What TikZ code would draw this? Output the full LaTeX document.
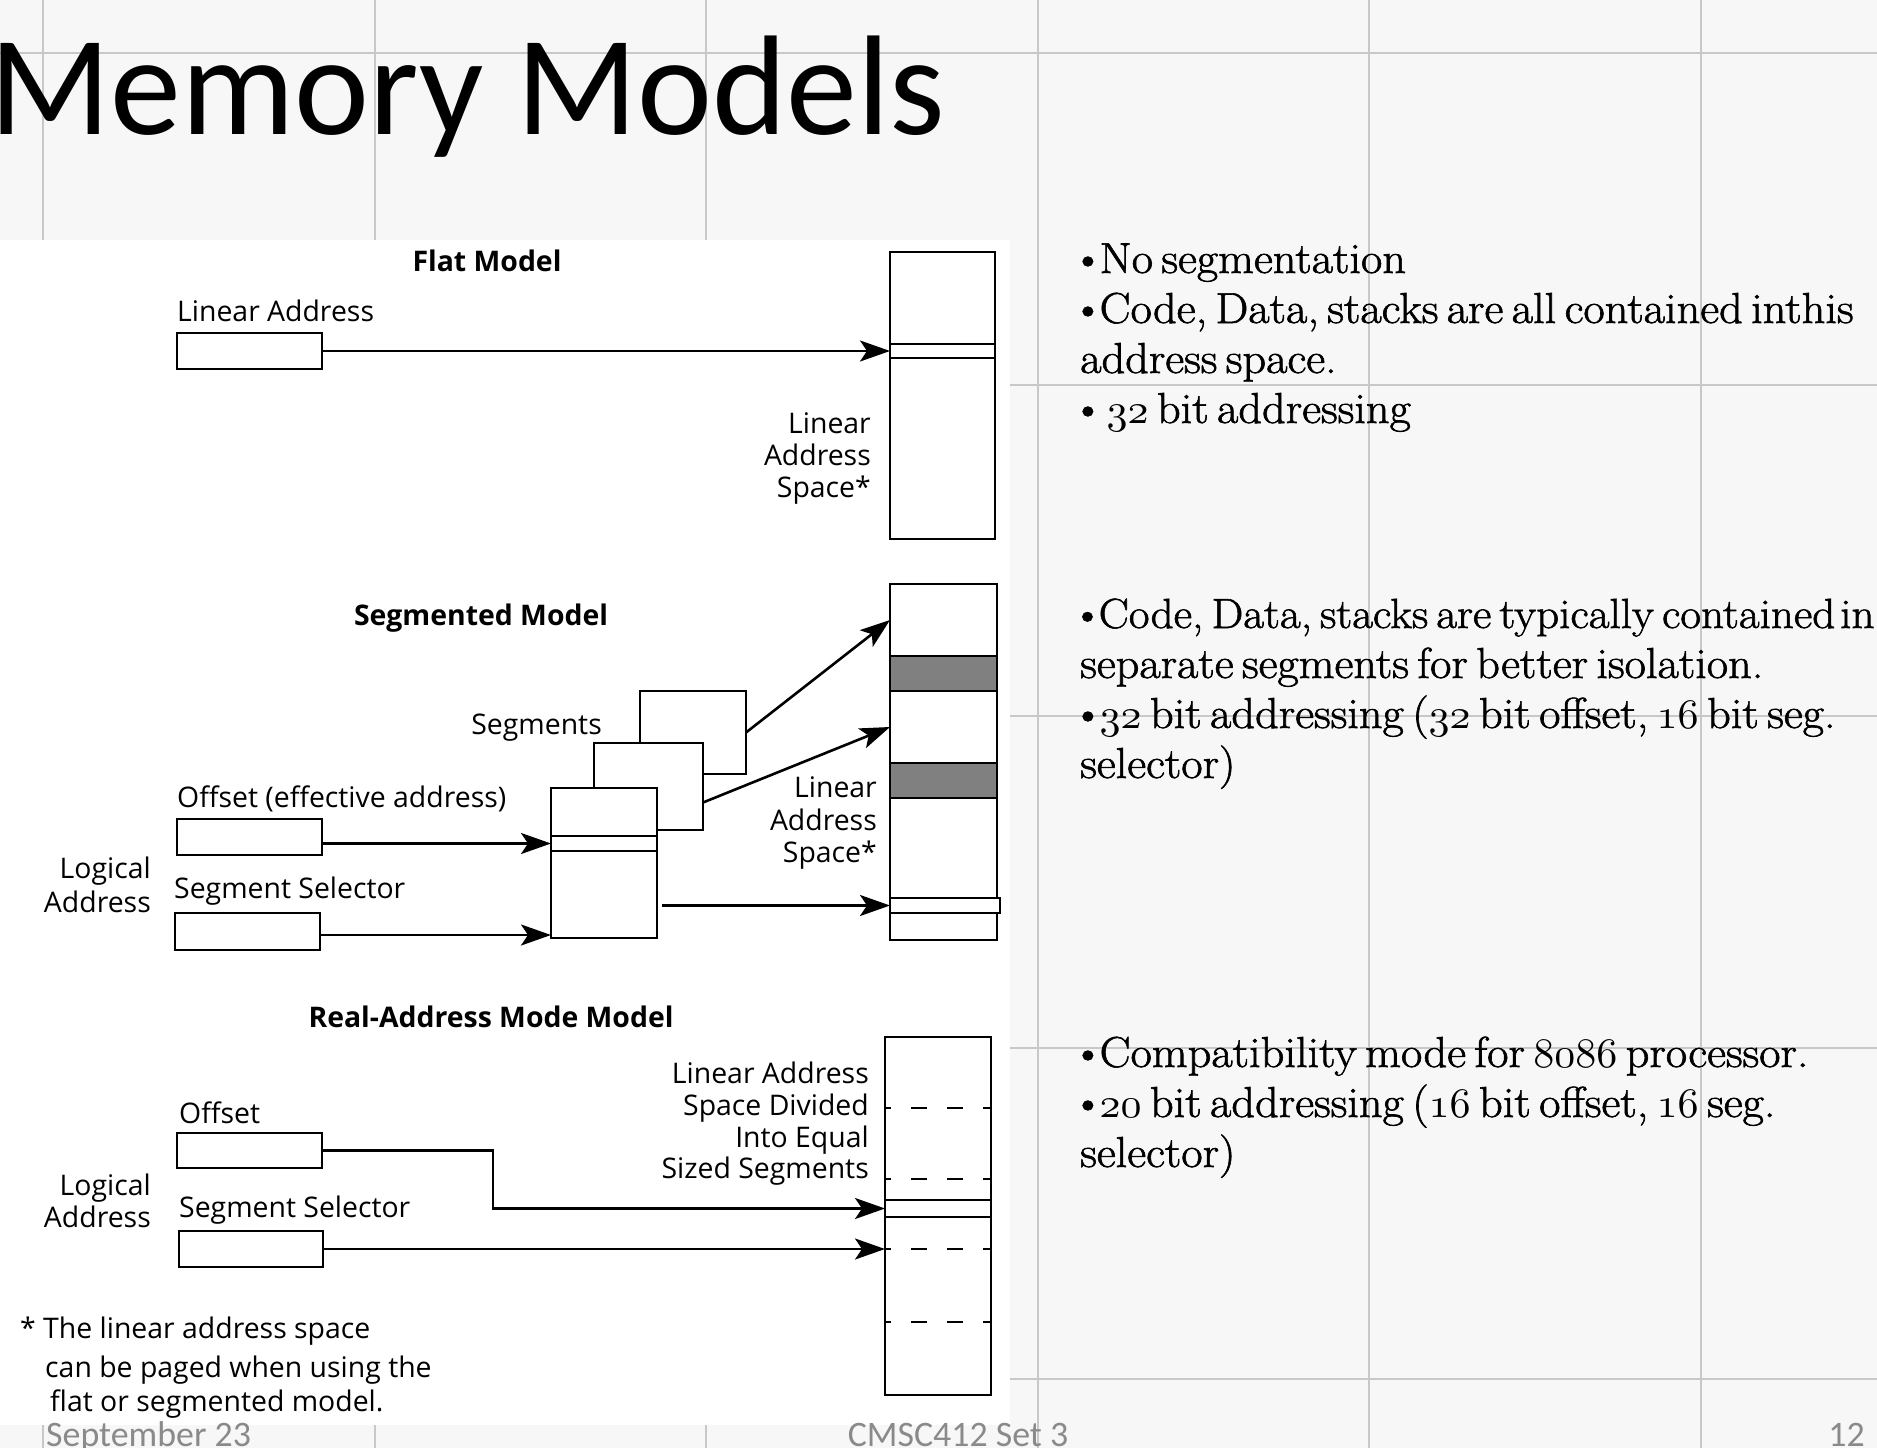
\documentclass[tikz,border=0pt]{standalone}
\usepackage{fontspec}
\newfontfamily\titlefont{Carlito}
\newfontfamily\diagfont{Open Sans}
\newfontfamily\bodyfont{Latin Modern Roman}[FakeBold=1.4, FakeStretch=1.07, WordSpace=0.6]
\usetikzlibrary{arrows.meta}
\definecolor{gridgray}{HTML}{C8C8C8}
\definecolor{bgtex}{HTML}{F7F7F7}
\definecolor{footgray}{HTML}{8A8A8A}
\definecolor{bandgray}{HTML}{808080}
\font\osfnum=cmmi10 at 42bp
\newcommand\myosf[1]{{\osfnum #1}}
\newcommand\bul{\textbullet\kern-5bp}
\begin{document}
\begin{tikzpicture}[x=1bp,y=-1bp,
  box/.style={draw=black, line width=2.6bp, fill=white, inner sep=0pt, outer sep=0pt, anchor=north west},
  graybox/.style={box, fill=bandgray},
  arr/.style={line width=2.6bp, -{Stealth[length=30bp,width=21bp,inset=7bp]}},
  dashline/.style={line width=2.4bp, dash pattern=on 16bp off 20bp, dash phase=10bp},
  lbl/.style={font=\diagfont\fontsize{28.5}{33}\selectfont, inner sep=0pt},
  lblL/.style={lbl, anchor=base west},
  lblR/.style={lbl, anchor=base east},
  head/.style={font=\diagfont\bfseries\fontsize{28.5}{33}\selectfont, inner sep=0pt, anchor=base},
  body/.style={font=\bodyfont\fontsize{43.5}{50}\selectfont, inner sep=0pt, anchor=base west},
  foot/.style={font=\titlefont\fontsize{36}{40}\selectfont, text=footgray, inner sep=0pt},
  gridline/.style={draw=gridgray, line width=2bp},
]
\useasboundingbox (0,0) rectangle (1877,1448);
% slide background
\fill[bgtex] (0,0) rectangle (1877,1448);
\foreach \gx in {43,374.5,706,1037.5,1369,1700.5} \draw[gridline] (\gx,0) -- (\gx,1448);
\foreach \gy in {53,385,716,1048,1379} \draw[gridline] (0,\gy) -- (1877,\gy);
\fill[white] (0,240) rectangle (1010,1425);

% title
\node[font=\titlefont\fontsize{142.5}{150}\selectfont, anchor=base west, inner sep=0pt] (title) at (-11,135) {Memory Models};

% ---------------- Flat model
\node[head] (flathead) at (487,272) {Flat Model};
\node[lblL] (flatlalbl) at (177,321) {Linear Address};
\node[box, minimum width=145bp, minimum height=36bp] (flatla) at (177,333) {};
\node[box, minimum width=105bp, minimum height=287bp] (flatspace) at (890,252) {};
\node[box, minimum width=105bp, minimum height=14bp] (flatband) at (890,344) {};
\draw[arr] (flatla.east) -- (flatla.east -| flatspace.west);
\node[lblR] (flats1) at (871,433) {Linear};
\node[lblR] (flats2) at (871,465) {Address};
\node[lblR] (flats3) at (871,497) {Space*};

% ---------------- Segmented model
\node[head] (seghead) at (481,625) {Segmented Model};
\node[box, minimum width=107bp, minimum height=356bp] (segspace) at (890,584) {};
\node[graybox, minimum width=107bp, minimum height=35bp] (gray1) at (890,656) {};
\node[graybox, minimum width=107bp, minimum height=35bp] (gray2) at (890,763) {};
\node[box, minimum width=110bp, minimum height=15bp] (segband) at (890,898) {};
\node[box, minimum width=106bp, minimum height=83bp] (back) at (640,691) {};
\node[box, minimum width=109bp, minimum height=87bp] (mid) at (594,743) {};
\node[box, minimum width=106bp, minimum height=150bp] (front) at (551,788) {};
\node[box, minimum width=106bp, minimum height=15bp] (frontband) at (551,836) {};
\node[lblR] (seglbl) at (602,734) {Segments};
\node[lblL] (offlbl) at (177,807) {Offset (effective address)};
\node[box, minimum width=145bp, minimum height=36bp] (segoff) at (177,819) {};
\node[lblR] (seglog1) at (151,878) {Logical};
\node[lblR] (seglog2) at (151,912) {Address};
\node[lblL] (segsellbl) at (174,898) {Segment Selector};
\node[box, minimum width=145bp, minimum height=37bp] (segsel) at (175,913) {};
\coordinate (fsel) at ([yshift=3bp]front.south west);
\coordinate (t1) at (segspace.west |- 0,620);
\coordinate (t2) at (segspace.west |- 0,727);
\draw[arr] (segoff.east |- frontband.west) -- (frontband.west);
\draw[arr] (segsel.east |- fsel) -- (fsel);
\draw[arr, shorten <=5bp] (front.east |- segband.west) -- (segband.west);
\draw[arr] (back.east) -- (t1);
\draw[arr] ([yshift=-16bp]mid.east) -- (t2);
\node[lblR] (segs1) at (877,797) {Linear};
\node[lblR] (segs2) at (877,830) {Address};
\node[lblR] (segs3) at (877,862) {Space*};

% ---------------- Real-address mode model
\node[head] (realhead) at (491,1027) {Real-Address Mode Model};
\node[box, minimum width=106bp, minimum height=358bp] (realspace) at (885,1037) {};
\foreach \dy in {1108,1179,1249,1322}
  \draw[dashline] (realspace.west |- 0,\dy) -- (realspace.east |- 0,\dy);
\node[box, minimum width=106bp, minimum height=17bp] (realband) at (885,1200) {};
\node[lblR] (rs1) at (869,1083) {Linear Address};
\node[lblR] (rs2) at (869,1115) {Space Divided};
\node[lblR] (rs3) at (869,1147) {Into Equal};
\node[lblR] (rs4) at (869,1178) {Sized Segments};
\node[lblL] (roffl) at (179,1123) {Offset};
\node[box, minimum width=145bp, minimum height=35bp] (realoff) at (177,1133) {};
\node[lblR] (rlog1) at (151,1195) {Logical};
\node[lblR] (rlog2) at (151,1227) {Address};
\node[lblL] (rsell) at (179,1217) {Segment Selector};
\node[box, minimum width=144bp, minimum height=36bp] (realsel) at (179,1231) {};
\draw[arr] (realoff.east) -- ++(171,0) |- (realband.west);
\draw[arr] (realsel.east) -- (realsel.east -| realspace.west);

% footnote
\node[lblL] (fn1) at (20,1338) {* The linear address space};
\node[lblL] (fn2) at (45,1377) {can be paged when using the};
\node[lblL] (fn3) at (50,1411) {flat or segmented model.};

% ---------------- right-hand text
\node[body] (b11) at (1071,273) {\bul No segmentation};
\node[body] (b12) at (1071,323) {\bul Code, Data, stacks are all contained inthis};
\node[body] (b13) at (1080,373) {address space.};
\node[body] (b14) at (1071,423) {\textbullet\kern2bp\myosf{32} bit addressing};

\node[body, font=\bodyfont\fontsize{42.3}{50}\selectfont] (b21) at (1071,628) {\bul Code, Data, stacks are typically contained\kern5bp in};
\node[body] (b22) at (1080,678) {separate segments for better isolation.};
\node[body] (b23) at (1071,728) {\bul\myosf{32} bit addressing (\myosf{32} bit offset, \myosf{16} bit seg.};
\node[body] (b24) at (1080,778) {selector)};

\node[body] (b31) at (1071,1067) {\bul Compatibility mode for \myosf{8086} processor.};
\node[body] (b32) at (1071,1117) {\bul\myosf{20} bit addressing (\myosf{16} bit offset, \myosf{16} seg.};
\node[body] (b33) at (1080,1167) {selector)};

% footer
\node[foot, anchor=base west] (fdate) at (46,1446) {September 23};
\node[foot, anchor=base] (fcourse) at (958,1446) {CMSC412 Set 3};
\node[foot, anchor=base east] (fpage) at (1865,1446) {12};
\end{tikzpicture}
\end{document}
